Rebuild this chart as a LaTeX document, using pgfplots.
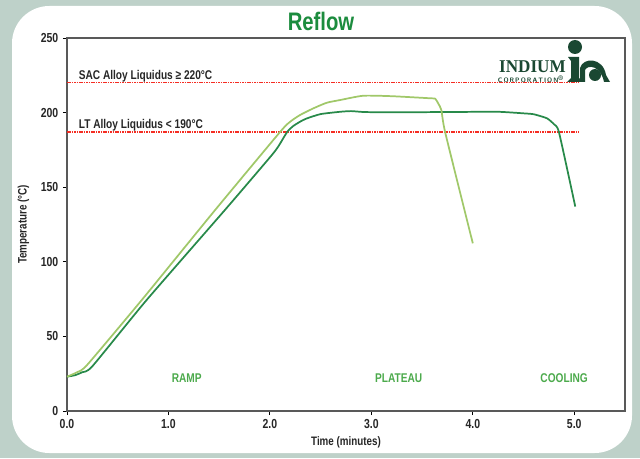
\documentclass[border=0pt]{standalone}
\usepackage{fontspec}
\setmainfont{Liberation Sans}[FakeStretch=0.80]
\newfontfamily\logofont{Liberation Serif}[FakeStretch=0.95]
\usepackage{pgfplots}
\pgfplotsset{compat=1.18}
\definecolor{bgc}{RGB}{190,209,201}
\definecolor{titlegreen}{RGB}{28,140,62}
\definecolor{lightg}{RGB}{160,200,105}
\definecolor{darkg}{RGB}{40,138,74}
\definecolor{phaseg}{RGB}{76,170,76}
\definecolor{logog}{RGB}{26,72,50}
\definecolor{liqred}{RGB}{245,45,35}
\begin{document}
\begin{tikzpicture}[x=0.75pt,y=0.75pt]
% background
\fill[bgc] (0,0) rectangle (640,458);
\fill[white, rounded corners=28] (12,5) rectangle (632,452);
% title
\node[text=titlegreen, font=\fontsize{19}{22}\selectfont\bfseries] at (321,437) {Reflow};
\begin{axis}[
  at={(67pt*0.75,47pt*0.75)}, anchor=south west,
  scale only axis, width=418.5pt, height=279.75pt,
  xmin=0, xmax=5.5, ymin=0, ymax=250,
  xtick={0,1,2,3,4,5}, ytick={0,50,100,150,200,250},
  tick align=outside, major tick length=3pt,
  xtick pos=bottom, ytick pos=left,
  axis line style={gray!70!black, line width=0.9pt},
  every tick/.style={black, line width=0.7pt},
  /pgf/number format/assume math mode=true,
  xticklabel style={/pgf/number format/.cd, fixed, fixed zerofill, precision=1},
  yticklabel style={/pgf/number format/.cd, fixed, precision=0},
  ticklabel style={font=\fontsize{9.8}{11}\selectfont\bfseries, text=black!85},
  xlabel={Time (minutes)}, ylabel={Temperature (°C)},
  label style={font=\fontsize{9.2}{11}\selectfont\bfseries, text=black!85},
  xlabel style={yshift=1pt},
  ylabel style={yshift=1.8pt},
  clip=false,
]
% liquidus lines
\addplot[liqred, dash pattern=on 1.2pt off 0.6pt, line width=1.1pt] coordinates {(0,220) (5.05,220)};
\addplot[liqred, dash pattern=on 1.2pt off 0.6pt, line width=1.1pt] coordinates {(0,187) (5.05,187)};
% dark green profile
\addplot[darkg, line width=1.3pt, smooth, tension=0.35] coordinates {
(0,23) (0.08,24) (0.15,26) (0.25,30) (0.78,74) (1.56,135) (2.0,170)
(2.08,177) (2.17,187) (2.23,191) (2.3,194) (2.36,196) (2.5,199) (2.7,200.6)
(2.8,201) (2.9,200.5) (3.0,200.3) (3.5,200.3) (4.0,200.5) (4.27,200.5)
(4.5,199.5) (4.6,198.9) (4.73,196.2) (4.8,192.2) (4.85,186.6) (5.01,137)};
% light green profile
\addplot[lightg, line width=1.3pt, smooth, tension=0.35] coordinates {
(0,23) (0.1,26) (0.2,31) (0.737,74.4) (1.46,134.7) (2.1,187) (2.2,193.9)
(2.3,198.5) (2.43,202.9) (2.56,206.6) (2.69,208.4) (2.92,211.3) (3.2,211)
(3.58,209.6) (3.63,209.3) (3.66,206) (3.69,201.7) (3.73,186.1) (4.0,112.4)};
% texts
\node[anchor=base west, font=\fontsize{9.5}{11}\selectfont\bfseries, text=black!85] at (axis cs:0.07,222.3) {SAC Alloy Liquidus ≥ 220°C};
\node[anchor=base west, font=\fontsize{9.5}{11}\selectfont\bfseries, text=black!85] at (axis cs:0.07,189.3) {LT Alloy Liquidus < 190°C};
\node[text=phaseg, font=\fontsize{9.5}{11}\selectfont\bfseries] at (axis cs:1.18,22.3) {RAMP};
\node[text=phaseg, font=\fontsize{9.5}{11}\selectfont\bfseries] at (axis cs:3.27,22.3) {PLATEAU};
\node[text=phaseg, font=\fontsize{9.5}{11}\selectfont\bfseries] at (axis cs:4.90,22.3) {COOLING};
\end{axis}
% logo
\node[text=logog, font=\logofont\fontsize{13.5}{14}\selectfont\bfseries, anchor=base east, inner sep=0pt] at (566,385) {INDIUM};
\node[text=logog, font=\sffamily\fontsize{4.8}{5}\selectfont\bfseries, anchor=base east, inner sep=0pt] at (564,375) {C\,O\,R\,P\,O\,R\,A\,T\,I\,O\,N\textsuperscript{\tiny ®}};
\fill[logog] (575,411) circle (7);
\fill[logog] (568,401) -- (579,401) -- (579,380) -- (583,376) -- (567,376) -- (571,380) -- (571,397) -- cycle;
\fill[logog] (580,376) -- (580,390) .. controls (583,401) and (603,401) .. (606,383) -- (610,376) -- (604,376) .. controls (601,392) and (588,394) .. (585,388) -- (585,376) -- cycle;
\fill[logog] (595,383) circle (6);
\end{tikzpicture}
\end{document}
